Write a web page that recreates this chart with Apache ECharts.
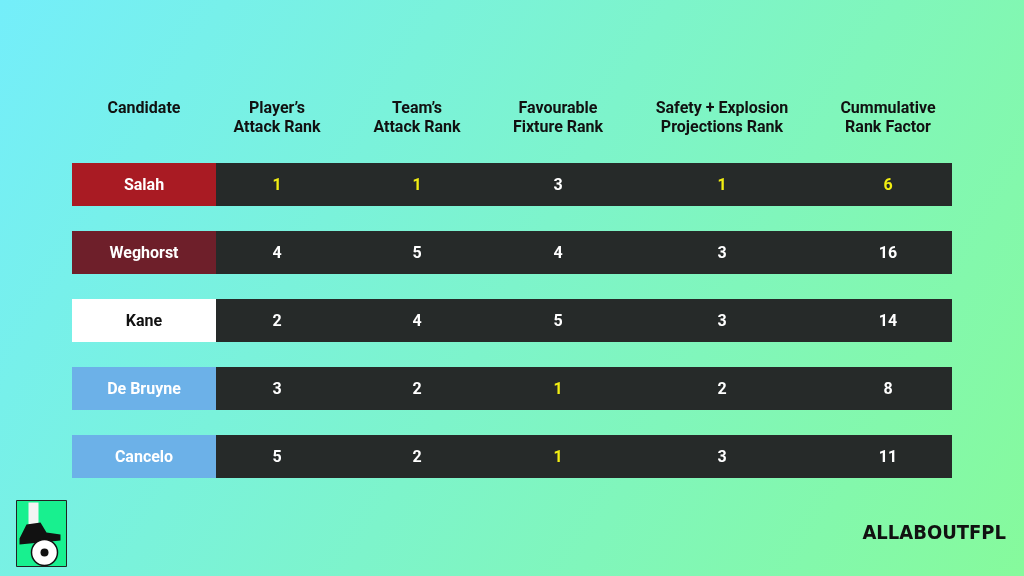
<!DOCTYPE html>
<html>
<head>
<meta charset="utf-8">
<script src="https://cdn.jsdelivr.net/npm/echarts@6/dist/echarts.min.js"></script>
<style>
  html, body { margin: 0; padding: 0; }
  #main { width: 1024px; height: 576px; }
</style>
</head>
<body>
<div id="main"></div>
<script>
// table data
var headers = ['Candidate', 'Player\u2019s\nAttack Rank', 'Team\u2019s\nAttack Rank', 'Favourable\nFixture Rank', 'Safety + Explosion\nProjections Rank', 'Cummulative\nRank Factor'];
var candidates = ['Salah', 'Weghorst', 'Kane', 'De Bruyne', 'Cancelo'];
var playerAttack = [1, 4, 2, 3, 5];
var teamAttack = [1, 5, 4, 2, 2];
var fixture = [3, 4, 5, 1, 1];
var safety = [1, 3, 3, 2, 3];
var cumulative = [6, 16, 14, 8, 11];

var nameColors = ['#a91b23', '#6e1f2a', '#ffffff', '#6cb1e8', '#6cb1e8'];
var colCenters = [144, 277, 417, 558, 722, 888];  // x in pixel-like axis units

var chart = echarts.init(document.getElementById('main'));

var cells = [];
candidates.forEach(function (name, i) {
  var vals = [playerAttack[i], teamAttack[i], fixture[i], safety[i], cumulative[i]];
  cells.push([0, i, name]);
  vals.forEach(function (v, j) { cells.push([j + 1, i, v]); });
});
var minTotal = Math.min.apply(null, cumulative);

var option = {
  backgroundColor: new echarts.graphic.LinearGradient(0, 0, 1, 1, [
    { offset: 0, color: '#74eefa' },
    { offset: 1, color: '#86fa9c' }
  ]),
  textStyle: { fontFamily: 'Roboto' },
  grid: { left: 0, right: 0, top: 150.5, bottom: 576 - 490.5 },
  xAxis: { type: 'value', min: 0, max: 1024, show: false },
  yAxis: { type: 'category', data: candidates, inverse: true, show: false },
  graphic: headers.map(function (h, k) {
    return {
      type: 'text', x: colCenters[k], y: 99,
      style: { text: h, fill: '#111', font: 'bold 16px Roboto', align: 'center', verticalAlign: 'top', lineHeight: 19 }
    };
  }).concat([{
    type: 'text', right: 18, top: 524,
    style: { text: 'ALLABOUTFPL', fill: '#111', font: 'bold 20px "DejaVu Sans Condensed"' }
  }, {
    type: 'group', left: 16, top: 500, children: [
      { type: 'rect', shape: { x: 0, y: 0, width: 50, height: 66 }, style: { fill: '#18f08f', stroke: '#222', lineWidth: 1 } },
      { type: 'rect', shape: { x: 12, y: 2, width: 10, height: 22 }, style: { fill: '#f4f4f4' } },
      { type: 'polygon', shape: { points: [[10, 24], [24, 22], [30, 32], [44, 34], [44, 40], [3, 44], [3, 38]] }, style: { fill: '#111' } },
      { type: 'circle', shape: { cx: 28, cy: 52, r: 13 }, style: { fill: '#fff', stroke: '#111', lineWidth: 1.5 } },
      { type: 'circle', shape: { cx: 28, cy: 52, r: 4 }, style: { fill: '#111' } }
    ]
  }]),
  series: [{
    type: 'custom',
    data: cells,
    renderItem: function (params, api) {
      var col = api.value(0), row = api.value(1);
      var c = api.coord([0, row]);
      var h = 43;
      var left = col === 0 ? api.coord([72, row])[0] : api.coord([216, row])[0];
      var right = col === 0 ? api.coord([216, row])[0] : api.coord([952, row])[0];
      var children = [];
      if (col === 0) {
        children.push({ type: 'rect', shape: { x: left, y: c[1] - h / 2, width: right - left, height: h }, style: { fill: nameColors[row] } });
      } else if (col === 1) {
        children.push({ type: 'rect', shape: { x: left, y: c[1] - h / 2, width: right - left, height: h }, style: { fill: '#262a29' } });
      }
      var v = api.value(2);
      var color = '#ffffff';
      if (col === 0 && nameColors[row] === '#ffffff') color = '#111';
      if (col > 0 && (v === 1 || (col === 5 && v === minTotal))) color = '#f2ee12';
      var x = api.coord([colCenters[col], row])[0];
      children.push({ type: 'text', x: x, y: c[1] + 1, style: { text: String(cells[params.dataIndex][2]), fill: color, font: 'bold 16px Roboto', align: 'center', verticalAlign: 'middle' } });
      return { type: 'group', children: children };
    }
  }]
};

chart.setOption(option);
</script>
</body>
</html>
